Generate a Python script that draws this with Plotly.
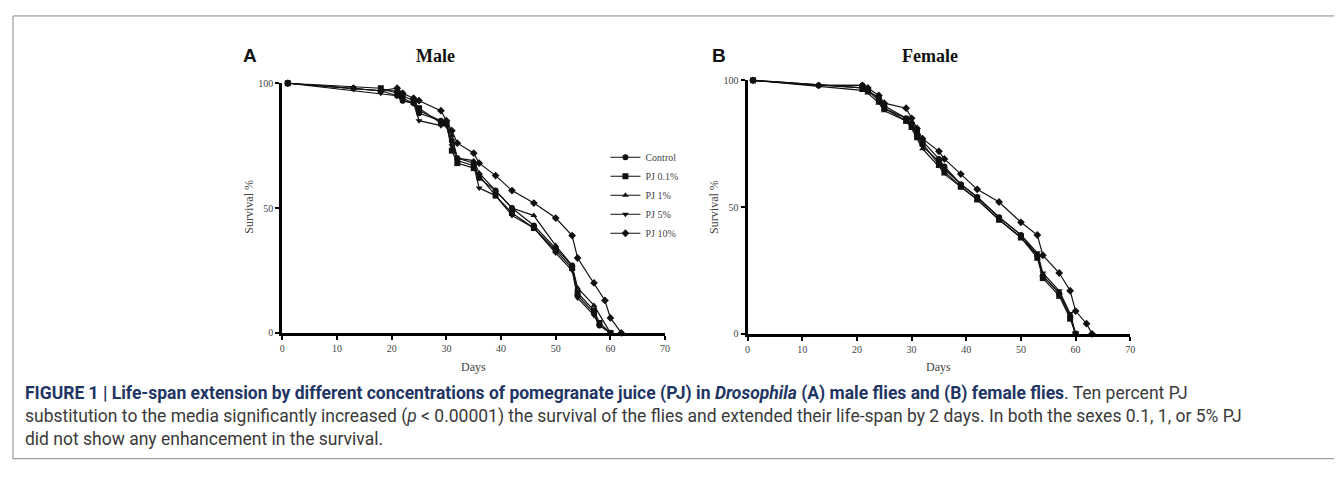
import plotly.graph_objects as go

# ---------------- data ----------------
series_names = ["Control", "PJ 0.1%", "PJ 1%", "PJ 5%", "PJ 10%"]
symbols = ["circle", "square", "triangle-up", "triangle-down", "diamond"]

# Male
male_control_days = [1, 13, 18, 21, 22, 24, 25, 29, 30, 31, 32, 35, 36, 39, 42, 46, 50, 53, 54, 57, 58, 60]
male_control_surv = [100, 98, 97, 95, 93, 92, 88, 85, 84, 77, 70, 68, 62, 57, 50, 43, 34, 27, 15, 8, 3, 0]
male_pj01_days = [1, 18, 21, 22, 24, 25, 29, 30, 31, 32, 35, 36, 39, 42, 46, 50, 53, 54, 57, 58, 60]
male_pj01_surv = [100, 98, 96, 95, 93, 90, 84, 84, 73, 68, 66, 63, 55, 48, 42, 33, 26, 16, 9, 4, 0]
male_pj1_days = [1, 18, 21, 22, 24, 25, 29, 30, 31, 32, 35, 36, 39, 42, 46, 50, 53, 54, 57, 60]
male_pj1_surv = [100, 97, 97, 94, 92, 89, 85, 85, 79, 70, 69, 64, 57, 50, 47, 35, 27, 18, 11, 0]
male_pj5_days = [1, 18, 21, 22, 24, 25, 29, 30, 31, 32, 35, 36, 39, 42, 46, 50, 53, 54, 57, 58, 60]
male_pj5_surv = [100, 96, 95, 93, 92, 85, 83, 83, 75, 69, 67, 58, 55, 47, 42, 32, 25, 14, 7, 3, 0]
male_pj10_days = [1, 13, 18, 21, 22, 24, 25, 29, 30, 31, 32, 35, 36, 39, 42, 46, 50, 53, 54, 57, 59, 60, 62]
male_pj10_surv = [100, 98, 97, 98, 96, 94, 93, 89, 85, 81, 76, 72, 68, 63, 57, 52, 46, 39, 30, 20, 13, 6, 0]

# Female
female_control_days = [1, 13, 21, 22, 24, 25, 29, 30, 31, 32, 35, 36, 39, 42, 46, 50, 53, 54, 57, 59, 60]
female_control_surv = [100, 98, 98, 96, 93, 90, 85, 83, 80, 76, 69, 66, 59, 54, 46, 39, 31, 23, 16, 7, 0]
female_pj01_days = [1, 21, 22, 24, 25, 29, 30, 31, 32, 35, 36, 39, 42, 46, 50, 53, 54, 57, 59, 60]
female_pj01_surv = [100, 97, 96, 92, 89, 84, 82, 78, 75, 67, 64, 58, 53, 45, 38, 30, 22, 15, 6, 0]
female_pj1_days = [1, 21, 22, 24, 25, 29, 30, 31, 32, 35, 36, 39, 42, 46, 50, 53, 54, 57, 59, 60]
female_pj1_surv = [100, 96, 95, 91, 88, 84, 81, 77, 73, 66, 63, 58, 53, 45, 38, 31, 23, 16, 7, 0]
female_pj5_days = [1, 21, 22, 24, 25, 29, 30, 31, 32, 35, 36, 39, 42, 46, 50, 53, 54, 57, 59, 60]
female_pj5_surv = [100, 97, 96, 93, 89, 85, 83, 79, 74, 68, 65, 59, 54, 46, 39, 32, 24, 17, 8, 0]
female_pj10_days = [1, 13, 21, 22, 24, 25, 29, 30, 31, 32, 35, 36, 39, 42, 46, 50, 53, 54, 57, 59, 60, 62, 63]
female_pj10_surv = [100, 98, 98, 97, 94, 91, 89, 85, 81, 77, 72, 69, 63, 57, 52, 44, 39, 31, 24, 17, 9, 4, 0]

x_ticks = [0, 10, 20, 30, 40, 50, 60, 70]
y_ticks = [0, 50, 100]

male = [(male_control_days, male_control_surv), (male_pj01_days, male_pj01_surv),
        (male_pj1_days, male_pj1_surv), (male_pj5_days, male_pj5_surv),
        (male_pj10_days, male_pj10_surv)]
female = [(female_control_days, female_control_surv), (female_pj01_days, female_pj01_surv),
          (female_pj1_days, female_pj1_surv), (female_pj5_days, female_pj5_surv),
          (female_pj10_days, female_pj10_surv)]

# ---------------- figure ----------------
W, H = 1342, 484
def px(x):
    return x / W
def py(y):
    return 1 - y / H

fig = go.Figure()
for i, (d, s) in enumerate(male):
    fig.add_trace(go.Scatter(x=d, y=s, mode="lines+markers", name=series_names[i],
                             line=dict(color="#111", width=1.2),
                             marker=dict(symbol=symbols[i], size=6, color="#111"),
                             cliponaxis=False, xaxis="x", yaxis="y", showlegend=True))
for i, (d, s) in enumerate(female):
    fig.add_trace(go.Scatter(x=d, y=s, mode="lines+markers", name=series_names[i],
                             line=dict(color="#111", width=1.2),
                             marker=dict(symbol=symbols[i], size=6, color="#111"),
                             cliponaxis=False, xaxis="x2", yaxis="y2", showlegend=False))

tickfont = dict(family="Liberation Serif", size=10, color="#444")
axis_common = dict(showgrid=False, zeroline=False, showline=True, linewidth=3, linecolor="#000",
                   ticks="outside", ticklen=4, tickwidth=2, tickcolor="#000", tickfont=tickfont)

fig.update_layout(
    width=W, height=H, margin=dict(l=0, r=0, t=0, b=0),
    paper_bgcolor="white", plot_bgcolor="rgba(0,0,0,0)",
    xaxis=dict(domain=[px(273), px(658)], range=[0, 70], tickvals=x_ticks, anchor="y", **axis_common),
    yaxis=dict(domain=[py(327), py(71)], range=[0, 100], tickvals=y_ticks, anchor="x", **axis_common),
    xaxis2=dict(domain=[px(741), px(1126)], range=[0, 70], tickvals=x_ticks, anchor="y2", **axis_common),
    yaxis2=dict(domain=[py(328), py(68)], range=[0, 100], tickvals=y_ticks, anchor="x2", **axis_common),
    legend=dict(x=px(598), y=py(132), xanchor="left", yanchor="top",
                font=dict(family="Liberation Serif", size=10, color="#444"),
                bgcolor="rgba(0,0,0,0)", itemwidth=30, tracegroupgap=0),
    showlegend=True,
)

ann = []
# panel letters and titles
ann.append(dict(text="<b>A</b>", x=px(240), y=py(43), font=dict(family="Liberation Sans", size=19, color="#111")))
ann.append(dict(text="<b>Male</b>", x=px(427), y=py(43), font=dict(family="Liberation Serif", size=18, color="#111")))
ann.append(dict(text="<b>B</b>", x=px(712), y=py(43), font=dict(family="Liberation Sans", size=19, color="#111")))
ann.append(dict(text="<b>Female</b>", x=px(925), y=py(43), font=dict(family="Liberation Serif", size=18, color="#111")))
# axis titles
for xx in (240, 707):
    ann.append(dict(text="Survival %", x=px(xx), y=py(198), textangle=-90,
                    font=dict(family="Liberation Serif", size=12, color="#444")))
for xx in (465, 933):
    ann.append(dict(text="Days", x=px(xx), y=py(362),
                    font=dict(family="Liberation Serif", size=12, color="#444")))

bold_col = "#1f3564"
txt_col = "#3a3a3a"
cap1 = (f"<span style='color:{bold_col}'><b>FIGURE 1 | Life-span extension by different concentrations of pomegranate juice (PJ) in "
        f"<i>Drosophila</i> (A) male flies and (B) female flies</b></span>. Ten percent PJ")
cap2 = ("substitution to the media significantly increased (<i>p</i> < 0.00001) the survival of the flies and extended "
        "their life-span by 2 days. In both the sexes 0.1, 1, or 5% PJ")
cap3 = "did not show any enhancement in the survival."
ann.append(dict(text="<br>".join([cap1, cap2, cap3]), x=px(12), y=py(412), xanchor="left", align="left",
                font=dict(family="Roboto", size=17.5, color=txt_col)))

for a in ann:
    a.setdefault("xref", "paper")
    a.setdefault("yref", "paper")
    a.setdefault("showarrow", False)
    a.setdefault("xanchor", "center")
    a.setdefault("yanchor", "middle")
fig.update_layout(annotations=ann)

# frame around the figure
fig.add_shape(type="rect", xref="paper", yref="paper", x0=px(2), x1=px(1340), y0=py(456), y1=py(2),
              line=dict(color="#888", width=1))

fig.write_html("out.html")
